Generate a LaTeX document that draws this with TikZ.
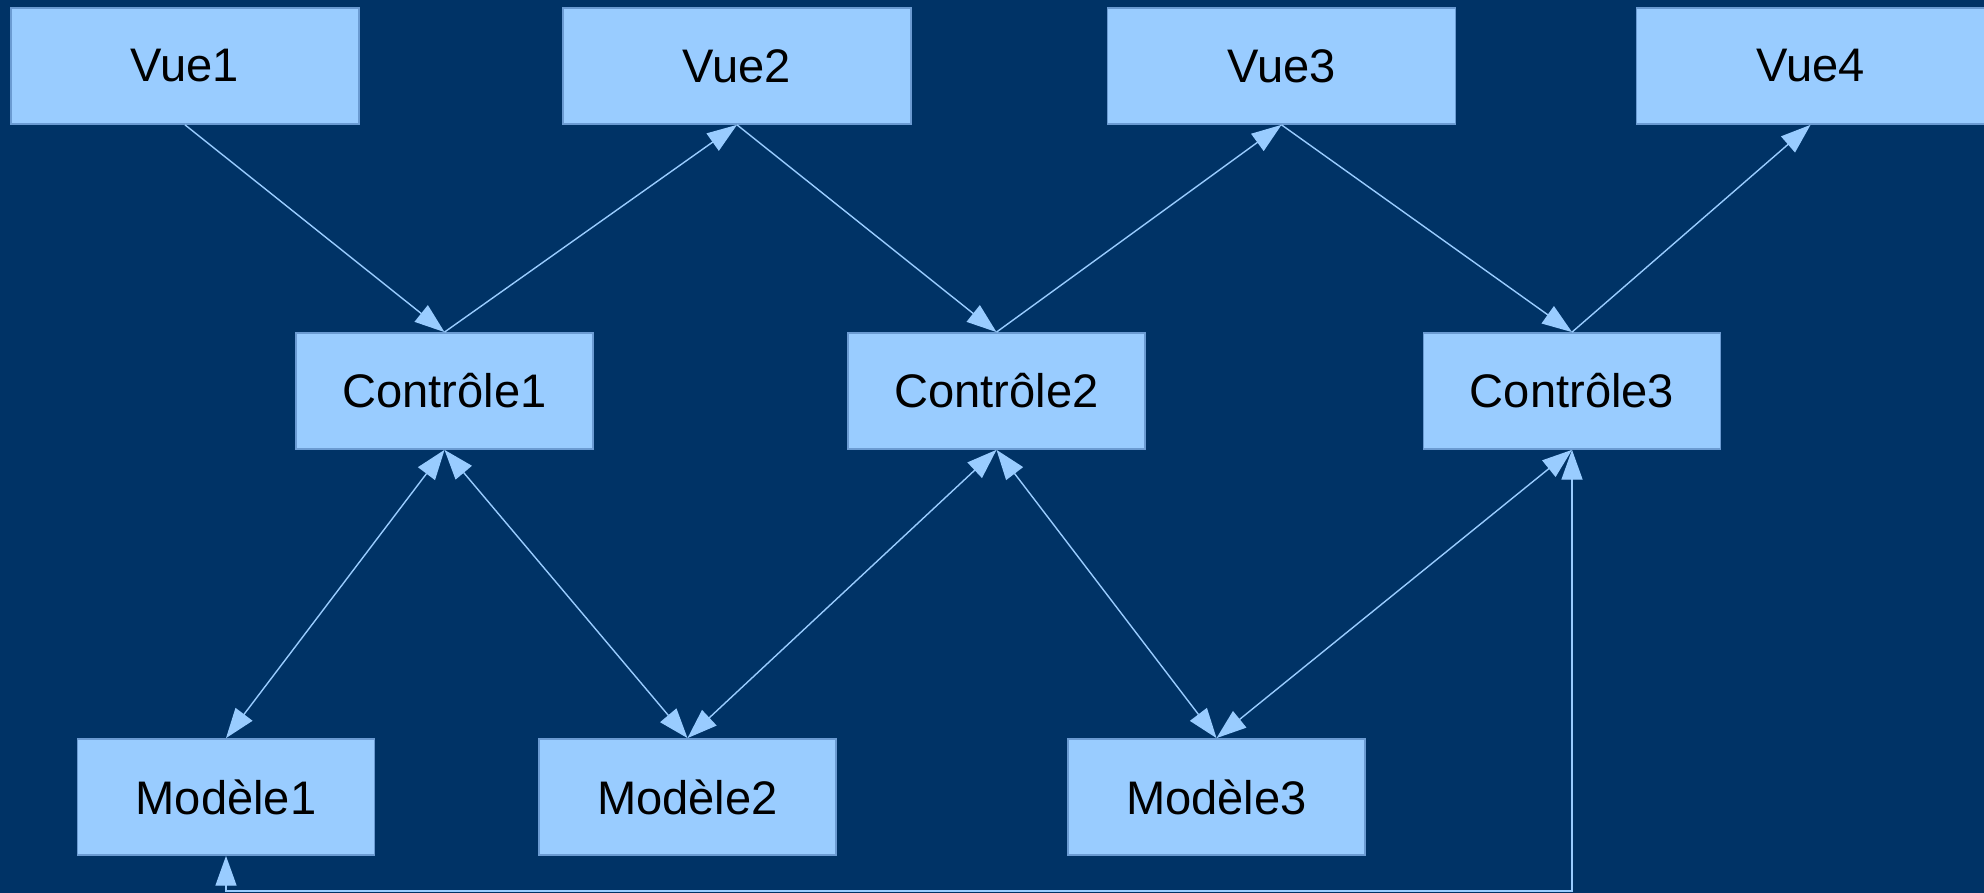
\documentclass[tikz,border=0pt]{standalone}
\usepackage{fontspec}
\setmainfont{Liberation Sans}
\usetikzlibrary{arrows.meta}

\begin{document}
\begin{tikzpicture}[scale = 1]
  \definecolor{fond}{HTML}{003366}
  \definecolor{boite}{HTML}{99CCFF}
  \definecolor{bord}{HTML}{6B9BD2}
  \tikzstyle{bloc}=[draw=bord, line width=0.5pt, fill=boite, minimum height=1.16cm, inner sep=0pt, font=\fontsize{13.4}{16}\selectfont]
  \tikzstyle{vue}=[bloc, minimum width=3.48cm]
  \tikzstyle{ctrl}=[bloc, minimum width=2.97cm]
  \tikzstyle{lien}=[draw=boite, line width=0.4pt, -{Triangle[length=8.5pt,width=6pt]}]
  \tikzstyle{double lien}=[lien, {Triangle[length=8.5pt,width=6pt]}-{Triangle[length=8.5pt,width=6pt]}]

  \fill[fond] (0,0) rectangle (19.84,8.93);
  \useasboundingbox (0,0) rectangle (19.84,8.93);

  % vues
  \node[vue](vue1) at (1.85,8.27) {Vue1};
  \node[vue](vue2) at (7.37,8.27) {Vue2};
  \node[vue](vue3) at (12.815,8.27) {Vue3};
  \node[vue](vue4) at (18.105,8.27) {Vue4};

  % controles
  \node[ctrl](ctrl1) at (4.445,5.02) {Contrôle1};
  \node[ctrl](ctrl2) at (9.965,5.02) {Contrôle2};
  \node[ctrl](ctrl3) at (15.72,5.02) {Contrôle3};

  % modeles
  \node[ctrl](mod1) at (2.26,0.96) {Modèle1};
  \node[ctrl](mod2) at (6.875,0.96) {Modèle2};
  \node[ctrl](mod3) at (12.165,0.96) {Modèle3};
  \coordinate (bas) at (0,0.02);

  \draw[lien] (vue1.south) -- (ctrl1.north);
  \draw[lien] (ctrl1.north) -- (vue2.south);
  \draw[lien] (vue2.south) -- (ctrl2.north);
  \draw[lien] (ctrl2.north) -- (vue3.south);
  \draw[lien] (vue3.south) -- (ctrl3.north);
  \draw[lien] (ctrl3.north) -- (vue4.south);

  \draw[double lien] (ctrl1.south) -- (mod1.north);
  \draw[double lien] (ctrl1.south) -- (mod2.north);
  \draw[double lien] (ctrl2.south) -- (mod2.north);
  \draw[double lien] (ctrl2.south) -- (mod3.north);
  \draw[double lien] (ctrl3.south) -- (mod3.north);

  \draw[double lien] (mod1.south) -- (mod1.south |- bas) -- (ctrl3.south |- bas) -- (ctrl3.south);
\end{tikzpicture}
\end{document}
